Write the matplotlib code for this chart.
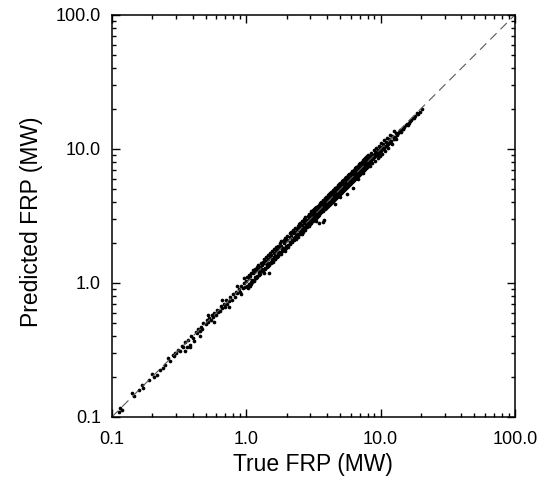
import numpy as np
import matplotlib.pyplot as plt

plt.rcParams['font.family'] = ['Liberation Sans', 'DejaVu Sans']

# true vs predicted FRP (MW)
true_frp = [
    0.112, 0.115, 0.118, 0.142, 0.145, 0.160, 0.167, 0.170, 0.190, 0.200,
    0.205, 0.216, 0.230, 0.240, 0.250, 0.260, 0.270, 0.290, 0.295, 0.285,
    0.30, 0.31, 0.32, 0.33, 0.34, 0.35, 0.36, 0.37, 0.38, 0.39,
    0.40, 0.41, 0.42, 0.43, 0.44, 0.45, 0.46, 0.47, 0.48, 0.50,
    0.51, 0.52, 0.53, 0.55, 0.56, 0.57, 0.58, 0.60, 0.61, 0.62,
    0.64, 0.65, 0.66, 0.68, 0.70, 0.71, 0.72, 0.74, 0.76, 0.78,
    0.80, 0.82, 0.84, 0.86, 0.88, 0.90, 0.92, 0.94, 0.96, 0.98,
    0.35, 0.38, 0.45, 0.52, 0.58, 0.66, 0.75, 0.85, 0.92, 0.97,
    1.00, 1.02, 1.04, 1.05, 1.07, 1.08, 1.10, 1.12, 1.14, 1.15,
    1.17, 1.19, 1.20, 1.22, 1.24, 1.25, 1.27, 1.30, 1.32, 1.34,
    1.35, 1.37, 1.40, 1.42, 1.44, 1.45, 1.47, 1.50, 1.52, 1.54,
    1.56, 1.58, 1.60, 1.62, 1.64, 1.66, 1.68, 1.70, 1.72, 1.75,
    1.78, 1.80, 1.82, 1.85, 1.88, 1.90, 1.92, 1.95, 1.97, 1.48,
    1.01, 1.03, 1.05, 1.06, 1.08, 1.09, 1.11, 1.13, 1.15, 1.16,
    1.18, 1.20, 1.21, 1.23, 1.25, 1.26, 1.28, 1.31, 1.33, 1.35,
    1.36, 1.38, 1.41, 1.43, 1.45, 1.46, 1.48, 1.51, 1.53, 1.55,
    1.57, 1.59, 1.61, 1.63, 1.65, 1.67, 1.69, 1.71, 1.73, 1.76,
    1.79, 1.81, 1.83, 1.86, 1.89, 1.91, 1.93, 1.96, 1.98, 1.99,
    2.00, 2.05, 2.10, 2.12, 2.15, 2.20, 2.22, 2.25, 2.30, 2.32,
    2.35, 2.40, 2.42, 2.45, 2.50, 2.52, 2.55, 2.60, 2.62, 2.65,
    2.70, 2.72, 2.75, 2.80, 2.82, 2.85, 2.90, 2.92, 2.95, 3.00,
    3.02, 3.05, 3.10, 3.12, 3.15, 3.20, 3.22, 3.25, 3.30, 3.32,
    3.35, 3.40, 3.42, 3.45, 3.50, 3.52, 3.55, 3.60, 3.62, 3.65,
    3.70, 3.72, 3.75, 3.80, 3.82, 3.85, 3.90, 3.92, 3.95, 4.00,
    3.72, 3.80, 3.50, 3.30, 2.60, 2.85, 3.15, 2.40, 3.60, 3.90,
    2.01, 2.06, 2.11, 2.13, 2.16, 2.21, 2.23, 2.26, 2.31, 2.33,
    2.36, 2.41, 2.43, 2.46, 2.51, 2.53, 2.56, 2.61, 2.63, 2.66,
    2.71, 2.73, 2.76, 2.81, 2.83, 2.86, 2.91, 2.93, 2.96, 3.01,
    3.03, 3.06, 3.11, 3.13, 3.16, 3.21, 3.23, 3.26, 3.31, 3.33,
    3.36, 3.41, 3.43, 3.46, 3.51, 3.53, 3.56, 3.61, 3.63, 3.66,
    3.71, 3.73, 3.76, 3.81, 3.83, 3.86, 3.91, 3.93, 3.96, 3.98,
    4.02, 4.05, 4.08, 4.10, 4.15, 4.18, 4.20, 4.25, 4.28, 4.30,
    4.35, 4.38, 4.40, 4.45, 4.48, 4.50, 4.55, 4.58, 4.60, 4.65,
    4.68, 4.70, 4.75, 4.80, 4.85, 4.88, 4.90, 4.95, 5.00, 5.05,
    5.10, 5.12, 5.15, 5.20, 5.25, 5.30, 5.35, 5.40, 5.45, 5.50,
    5.55, 5.60, 5.65, 5.70, 5.75, 5.80, 5.85, 5.90, 5.95, 6.00,
    6.05, 6.10, 6.15, 6.20, 6.25, 6.30, 6.35, 6.40, 6.45, 6.50,
    6.55, 6.60, 6.65, 6.70, 6.75, 6.80, 6.85, 6.90, 6.95, 7.00,
    7.05, 7.10, 7.15, 7.20, 7.25, 7.30, 7.35, 7.40, 7.45, 7.50,
    7.55, 7.60, 7.65, 7.70, 7.75, 7.80, 7.85, 7.90, 7.95, 8.00,
    5.60, 6.20, 4.60, 5.00, 6.80, 7.40, 4.30, 5.40, 6.00, 7.00,
    4.04, 4.07, 4.10, 4.12, 4.17, 4.20, 4.22, 4.27, 4.30, 4.32,
    4.37, 4.40, 4.42, 4.47, 4.50, 4.52, 4.57, 4.60, 4.62, 4.67,
    4.70, 4.72, 4.77, 4.82, 4.87, 4.90, 4.92, 4.97, 5.02, 5.07,
    5.12, 5.14, 5.17, 5.22, 5.27, 5.32, 5.37, 5.42, 5.47, 5.52,
    5.57, 5.62, 5.67, 5.72, 5.77, 5.82, 5.87, 5.92, 5.97, 6.02,
    6.07, 6.12, 6.17, 6.22, 6.27, 6.32, 6.37, 6.42, 6.47, 6.52,
    6.57, 6.62, 6.67, 6.72, 6.77, 6.82, 6.87, 6.92, 6.97, 7.02,
    7.07, 7.12, 7.17, 7.22, 7.27, 7.32, 7.37, 7.42, 7.47, 7.52,
    7.57, 7.62, 7.67, 7.72, 7.77, 7.82, 7.87, 7.92, 7.97, 8.02,
    8.05, 8.15, 8.25, 8.35, 8.45, 8.55, 8.65, 8.75, 8.85, 8.95,
    9.05, 9.15, 9.25, 9.35, 9.45, 9.55, 9.65, 9.80, 9.90, 10.0,
    10.2, 10.4, 10.5, 10.7, 10.9, 11.0, 11.2, 11.4, 11.5, 11.8,
    12.0, 12.2, 12.5, 12.8, 13.0, 13.3, 13.6, 14.0, 14.3, 14.6,
    15.0, 15.4, 15.8, 16.2, 16.6, 17.0, 17.5, 18.0, 18.8, 19.5,
    19.0, 20.2, 17.8, 16.0, 14.8, 13.8, 12.6, 11.6, 10.6, 9.5,
    8.1, 8.3, 8.5, 8.7, 8.9, 9.1, 9.3, 9.5, 9.7, 9.9,
    10.1, 10.3, 10.6, 10.8, 11.1, 11.3, 11.7, 12.1, 12.6, 13.1,
]
pred_frp = [
    0.108, 0.117, 0.113, 0.150, 0.144, 0.158, 0.173, 0.165, 0.188, 0.210,
    0.198, 0.205, 0.225, 0.232, 0.246, 0.275, 0.262, 0.283, 0.300, 0.292,
    0.30, 0.315, 0.31, 0.34, 0.33, 0.36, 0.33, 0.375, 0.345, 0.40,
    0.39, 0.37, 0.43, 0.42, 0.45, 0.44, 0.47, 0.455, 0.50, 0.49,
    0.53, 0.51, 0.55, 0.53, 0.58, 0.56, 0.60, 0.58, 0.63, 0.61,
    0.62, 0.67, 0.65, 0.70, 0.66, 0.74, 0.70, 0.73, 0.78, 0.74,
    0.83, 0.78, 0.86, 0.84, 0.90, 0.85, 0.95, 0.92, 1.00, 0.94,
    0.31, 0.33, 0.40, 0.58, 0.51, 0.74, 0.66, 0.95, 0.82, 1.08,
    1.04, 0.95, 1.08, 0.98, 1.12, 1.02, 1.06, 1.18, 1.05, 1.20,
    1.10, 1.25, 1.13, 1.28, 1.18, 1.22, 1.31, 1.26, 1.35, 1.22,
    1.40, 1.30, 1.45, 1.36, 1.38, 1.52, 1.40, 1.55, 1.44, 1.62,
    1.48, 1.52, 1.66, 1.55, 1.58, 1.72, 1.60, 1.78, 1.65, 1.70,
    1.85, 1.70, 1.90, 1.78, 1.82, 1.98, 1.80, 2.05, 1.88, 1.19,
    1.10, 0.92, 1.14, 0.95, 1.18, 0.98, 1.02, 1.25, 1.03, 1.26,
    1.08, 1.32, 1.10, 1.36, 1.14, 1.17, 1.40, 1.22, 1.44, 1.18,
    1.50, 1.26, 1.55, 1.32, 1.34, 1.62, 1.36, 1.66, 1.40, 1.72,
    1.44, 1.48, 1.78, 1.50, 1.52, 1.84, 1.56, 1.90, 1.60, 1.64,
    1.98, 1.64, 2.04, 1.72, 1.76, 2.10, 1.74, 2.18, 1.82, 2.12,
    2.08, 1.92, 2.20, 2.02, 2.25, 2.10, 2.35, 2.15, 2.40, 2.22,
    2.28, 2.50, 2.30, 2.55, 2.40, 2.62, 2.45, 2.70, 2.50, 2.58,
    2.82, 2.60, 2.90, 2.70, 2.75, 2.95, 2.78, 3.05, 2.88, 3.10,
    2.92, 3.20, 3.00, 3.25, 3.05, 3.30, 3.10, 3.38, 3.20, 3.45,
    3.25, 3.50, 3.30, 3.55, 3.40, 3.62, 3.45, 3.70, 3.50, 3.60,
    3.80, 3.58, 3.90, 3.70, 3.72, 4.00, 3.80, 4.05, 3.85, 3.95,
    2.85, 2.95, 2.80, 2.90, 2.30, 2.60, 2.90, 2.20, 3.80, 4.20,
    2.24, 1.86, 2.36, 1.96, 2.40, 2.02, 2.50, 2.08, 2.56, 2.14,
    2.20, 2.68, 2.22, 2.74, 2.30, 2.82, 2.36, 2.92, 2.42, 2.50,
    3.02, 2.50, 3.10, 2.60, 2.66, 3.18, 2.68, 3.26, 2.76, 3.34,
    2.80, 3.42, 2.88, 3.48, 2.94, 3.56, 2.98, 3.62, 3.06, 3.70,
    3.10, 3.78, 3.16, 3.82, 3.24, 3.92, 3.30, 4.00, 3.36, 3.46,
    4.10, 3.44, 4.18, 3.54, 3.56, 4.28, 3.62, 4.36, 3.68, 3.80,
    4.20, 3.85, 4.30, 3.95, 4.05, 4.40, 4.00, 4.35, 4.10, 4.55,
    4.20, 4.50, 4.25, 4.70, 4.30, 4.45, 4.80, 4.35, 4.70, 4.50,
    4.95, 4.55, 4.60, 5.05, 4.70, 5.10, 4.65, 4.85, 5.25, 4.90,
    4.95, 5.35, 5.00, 5.10, 5.45, 5.05, 5.20, 5.60, 5.25, 5.35,
    5.80, 5.40, 5.50, 5.95, 5.55, 5.65, 6.10, 5.70, 5.80, 6.20,
    5.85, 5.95, 6.35, 6.00, 6.10, 6.50, 6.15, 6.25, 6.70, 6.30,
    6.40, 6.85, 6.45, 6.55, 7.00, 6.60, 6.70, 7.20, 6.75, 6.85,
    7.35, 6.90, 7.00, 7.50, 7.05, 7.15, 7.65, 7.20, 7.30, 7.80,
    7.35, 7.45, 7.95, 7.50, 7.60, 8.05, 7.65, 7.75, 8.20, 7.80,
    4.60, 5.10, 3.90, 4.40, 6.00, 6.60, 4.70, 5.95, 6.60, 7.70,
    4.50, 3.72, 4.58, 3.80, 3.86, 4.70, 3.90, 4.74, 3.96, 4.80,
    4.02, 4.90, 4.08, 4.98, 4.14, 4.22, 5.08, 4.24, 5.14, 4.32,
    5.24, 4.36, 4.42, 5.36, 4.50, 5.44, 4.56, 4.62, 5.60, 4.70,
    4.72, 5.72, 4.78, 4.84, 5.86, 4.92, 5.00, 6.02, 5.06, 5.12,
    6.20, 5.18, 5.24, 6.34, 5.32, 5.38, 6.50, 5.46, 5.52, 6.66,
    5.60, 5.66, 6.84, 5.74, 5.80, 6.98, 5.88, 5.96, 7.16, 6.02,
    6.10, 7.34, 6.16, 6.24, 7.50, 6.30, 6.38, 7.70, 6.44, 6.52,
    7.86, 6.58, 6.66, 8.02, 6.74, 6.80, 8.20, 6.88, 6.96, 8.36,
    7.02, 7.10, 8.50, 7.16, 7.24, 8.66, 7.30, 7.38, 8.82, 7.44,
    8.40, 7.90, 8.60, 8.10, 8.20, 8.85, 8.35, 9.00, 8.50, 8.70,
    9.30, 8.80, 9.50, 9.00, 9.10, 9.75, 9.25, 9.40, 10.1, 9.60,
    10.4, 9.95, 10.8, 10.2, 10.5, 11.3, 10.7, 10.9, 11.8, 11.2,
    11.5, 12.5, 11.9, 12.2, 13.2, 12.6, 13.1, 13.8, 13.4, 14.0,
    14.6, 15.0, 15.3, 15.7, 16.3, 16.4, 17.0, 17.6, 18.4, 19.0,
    18.2, 20.0, 17.0, 15.2, 14.2, 13.4, 12.0, 11.0, 10.1, 9.1,
    9.0, 7.5, 9.4, 7.8, 9.8, 8.1, 10.2, 8.5, 10.6, 8.8,
    11.0, 9.2, 11.6, 9.6, 12.0, 10.1, 12.6, 10.9, 13.6, 11.8,
]

ticks = [0.1, 1.0, 10.0, 100.0]
tick_labels = ['0.1', '1.0', '10.0', '100.0']

fig = plt.figure(figsize=(5.38, 4.82), dpi=100)
ax = fig.add_axes([0.208, 0.135, 0.749, 0.834])

# 1:1 line
line, = ax.plot([0.1, 100], [0.1, 100], color='0.35', lw=0.8)
line.set_dashes((8, 5))

ax.scatter(true_frp, pred_frp, s=7, c='black', linewidths=0)

ax.set_xscale('log')
ax.set_yscale('log')
ax.set_xlim(0.1, 100)
ax.set_ylim(0.1, 100)
ax.set_xticks(ticks)
ax.set_xticklabels(tick_labels)
ax.set_yticks(ticks)
ax.set_yticklabels(tick_labels)

ax.tick_params(which='both', direction='in', top=True, right=True, width=1)
ax.tick_params(which='major', length=6, labelsize=13)
ax.tick_params(which='minor', length=3)
ax.tick_params(axis='x', pad=10)
ax.tick_params(axis='y', pad=8)
for sp in ax.spines.values():
    sp.set_linewidth(1.1)

ax.set_xlabel('True FRP (MW)', fontsize=16.5)
ax.set_ylabel('Predicted FRP (MW)', fontsize=16.5)
ax.xaxis.set_label_coords(0.5, -0.09)
ax.yaxis.set_label_coords(-0.172, 0.485)

fig.savefig('out.png', dpi=100)
